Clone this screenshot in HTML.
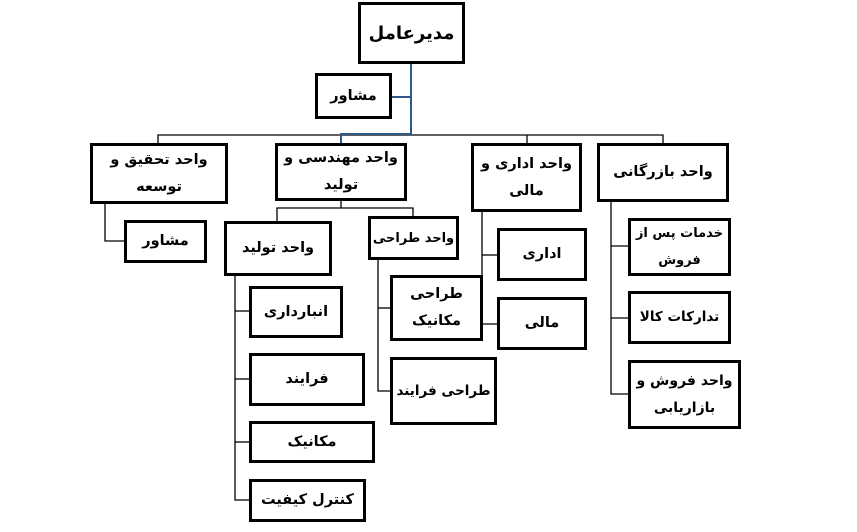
<!DOCTYPE html>
<html><head><meta charset="utf-8"><style>
body{margin:0;width:857px;height:532px;background:#fff;position:relative;overflow:hidden;font-family:"DejaVu Sans","Noto Sans CJK SC",sans-serif;}
.b{position:absolute;box-sizing:border-box;border:3px solid #000;background:#fff;display:flex;align-items:center;justify-content:center;text-align:center;direction:rtl;font-weight:bold;font-size:14.5px;line-height:27px;color:#000;white-space:nowrap;}
svg{position:absolute;left:0;top:0}
</style></head><body>
<svg width="857" height="532">
<g stroke="#000" stroke-width="1.3" fill="none">
<polyline points="158,144 158,135 663,135 663,144"/>
<line x1="527" y1="135" x2="527" y2="144"/>
<polyline points="105,203 105,241 125,241"/>
<polyline points="341,200 341,208"/>
<polyline points="277,222 277,208 413,208 413,216"/>
<polyline points="235,275 235,500 250,500"/>
<line x1="235" y1="311" x2="250" y2="311"/>
<line x1="235" y1="379" x2="250" y2="379"/>
<line x1="235" y1="442" x2="250" y2="442"/>
<polyline points="378,259 378,391 391,391"/>
<line x1="378" y1="308" x2="391" y2="308"/>
<polyline points="482,211 482,324 498,324"/>
<line x1="482" y1="255" x2="498" y2="255"/>
<polyline points="611,201 611,394 629,394"/>
<line x1="611" y1="246" x2="629" y2="246"/>
<line x1="611" y1="318" x2="629" y2="318"/>
</g>
<g stroke="#2d5a8a" stroke-width="2" fill="none">
<polyline points="411,63 411,134 341,134 341,144"/>
<line x1="391" y1="97" x2="411" y2="97"/>
</g>
</svg>
<div class="b" style="left:358px;top:2px;width:107px;height:62px;font-size:18px">مدیرعامل</div>
<div class="b" style="left:315px;top:73px;width:77px;height:46px">مشاور</div>
<div class="b" style="left:90px;top:143px;width:138px;height:61px">واحد تحقیق و<br>توسعه</div>
<div class="b" style="left:275px;top:143px;width:132px;height:58px">واحد مهندسی و<br>تولید</div>
<div class="b" style="left:471px;top:143px;width:111px;height:69px">واحد اداری و<br>مالی</div>
<div class="b" style="left:597px;top:143px;width:132px;height:59px">واحد بازرگانی</div>
<div class="b" style="left:124px;top:220px;width:83px;height:43px">مشاور</div>
<div class="b" style="left:224px;top:221px;width:108px;height:55px">واحد تولید</div>
<div class="b" style="left:368px;top:216px;width:91px;height:44px;font-size:13px">واحد طراحی</div>
<div class="b" style="left:249px;top:286px;width:94px;height:52px">انبارداری</div>
<div class="b" style="left:249px;top:353px;width:116px;height:53px">فرایند</div>
<div class="b" style="left:249px;top:421px;width:126px;height:42px">مکانیک</div>
<div class="b" style="left:249px;top:479px;width:117px;height:43px">کنترل کیفیت</div>
<div class="b" style="left:390px;top:275px;width:93px;height:66px">طراحی<br>مکانیک</div>
<div class="b" style="left:390px;top:357px;width:107px;height:68px;font-size:13.5px">طراحی فرایند</div>
<div class="b" style="left:497px;top:228px;width:90px;height:53px">اداری</div>
<div class="b" style="left:497px;top:297px;width:90px;height:53px">مالی</div>
<div class="b" style="left:628px;top:218px;width:103px;height:58px;font-size:13px">خدمات پس از<br>فروش</div>
<div class="b" style="left:628px;top:291px;width:103px;height:53px;font-size:13.5px">تدارکات کالا</div>
<div class="b" style="left:628px;top:360px;width:113px;height:69px;font-size:14px">واحد فروش و<br>بازاریابی</div>
</body></html>
